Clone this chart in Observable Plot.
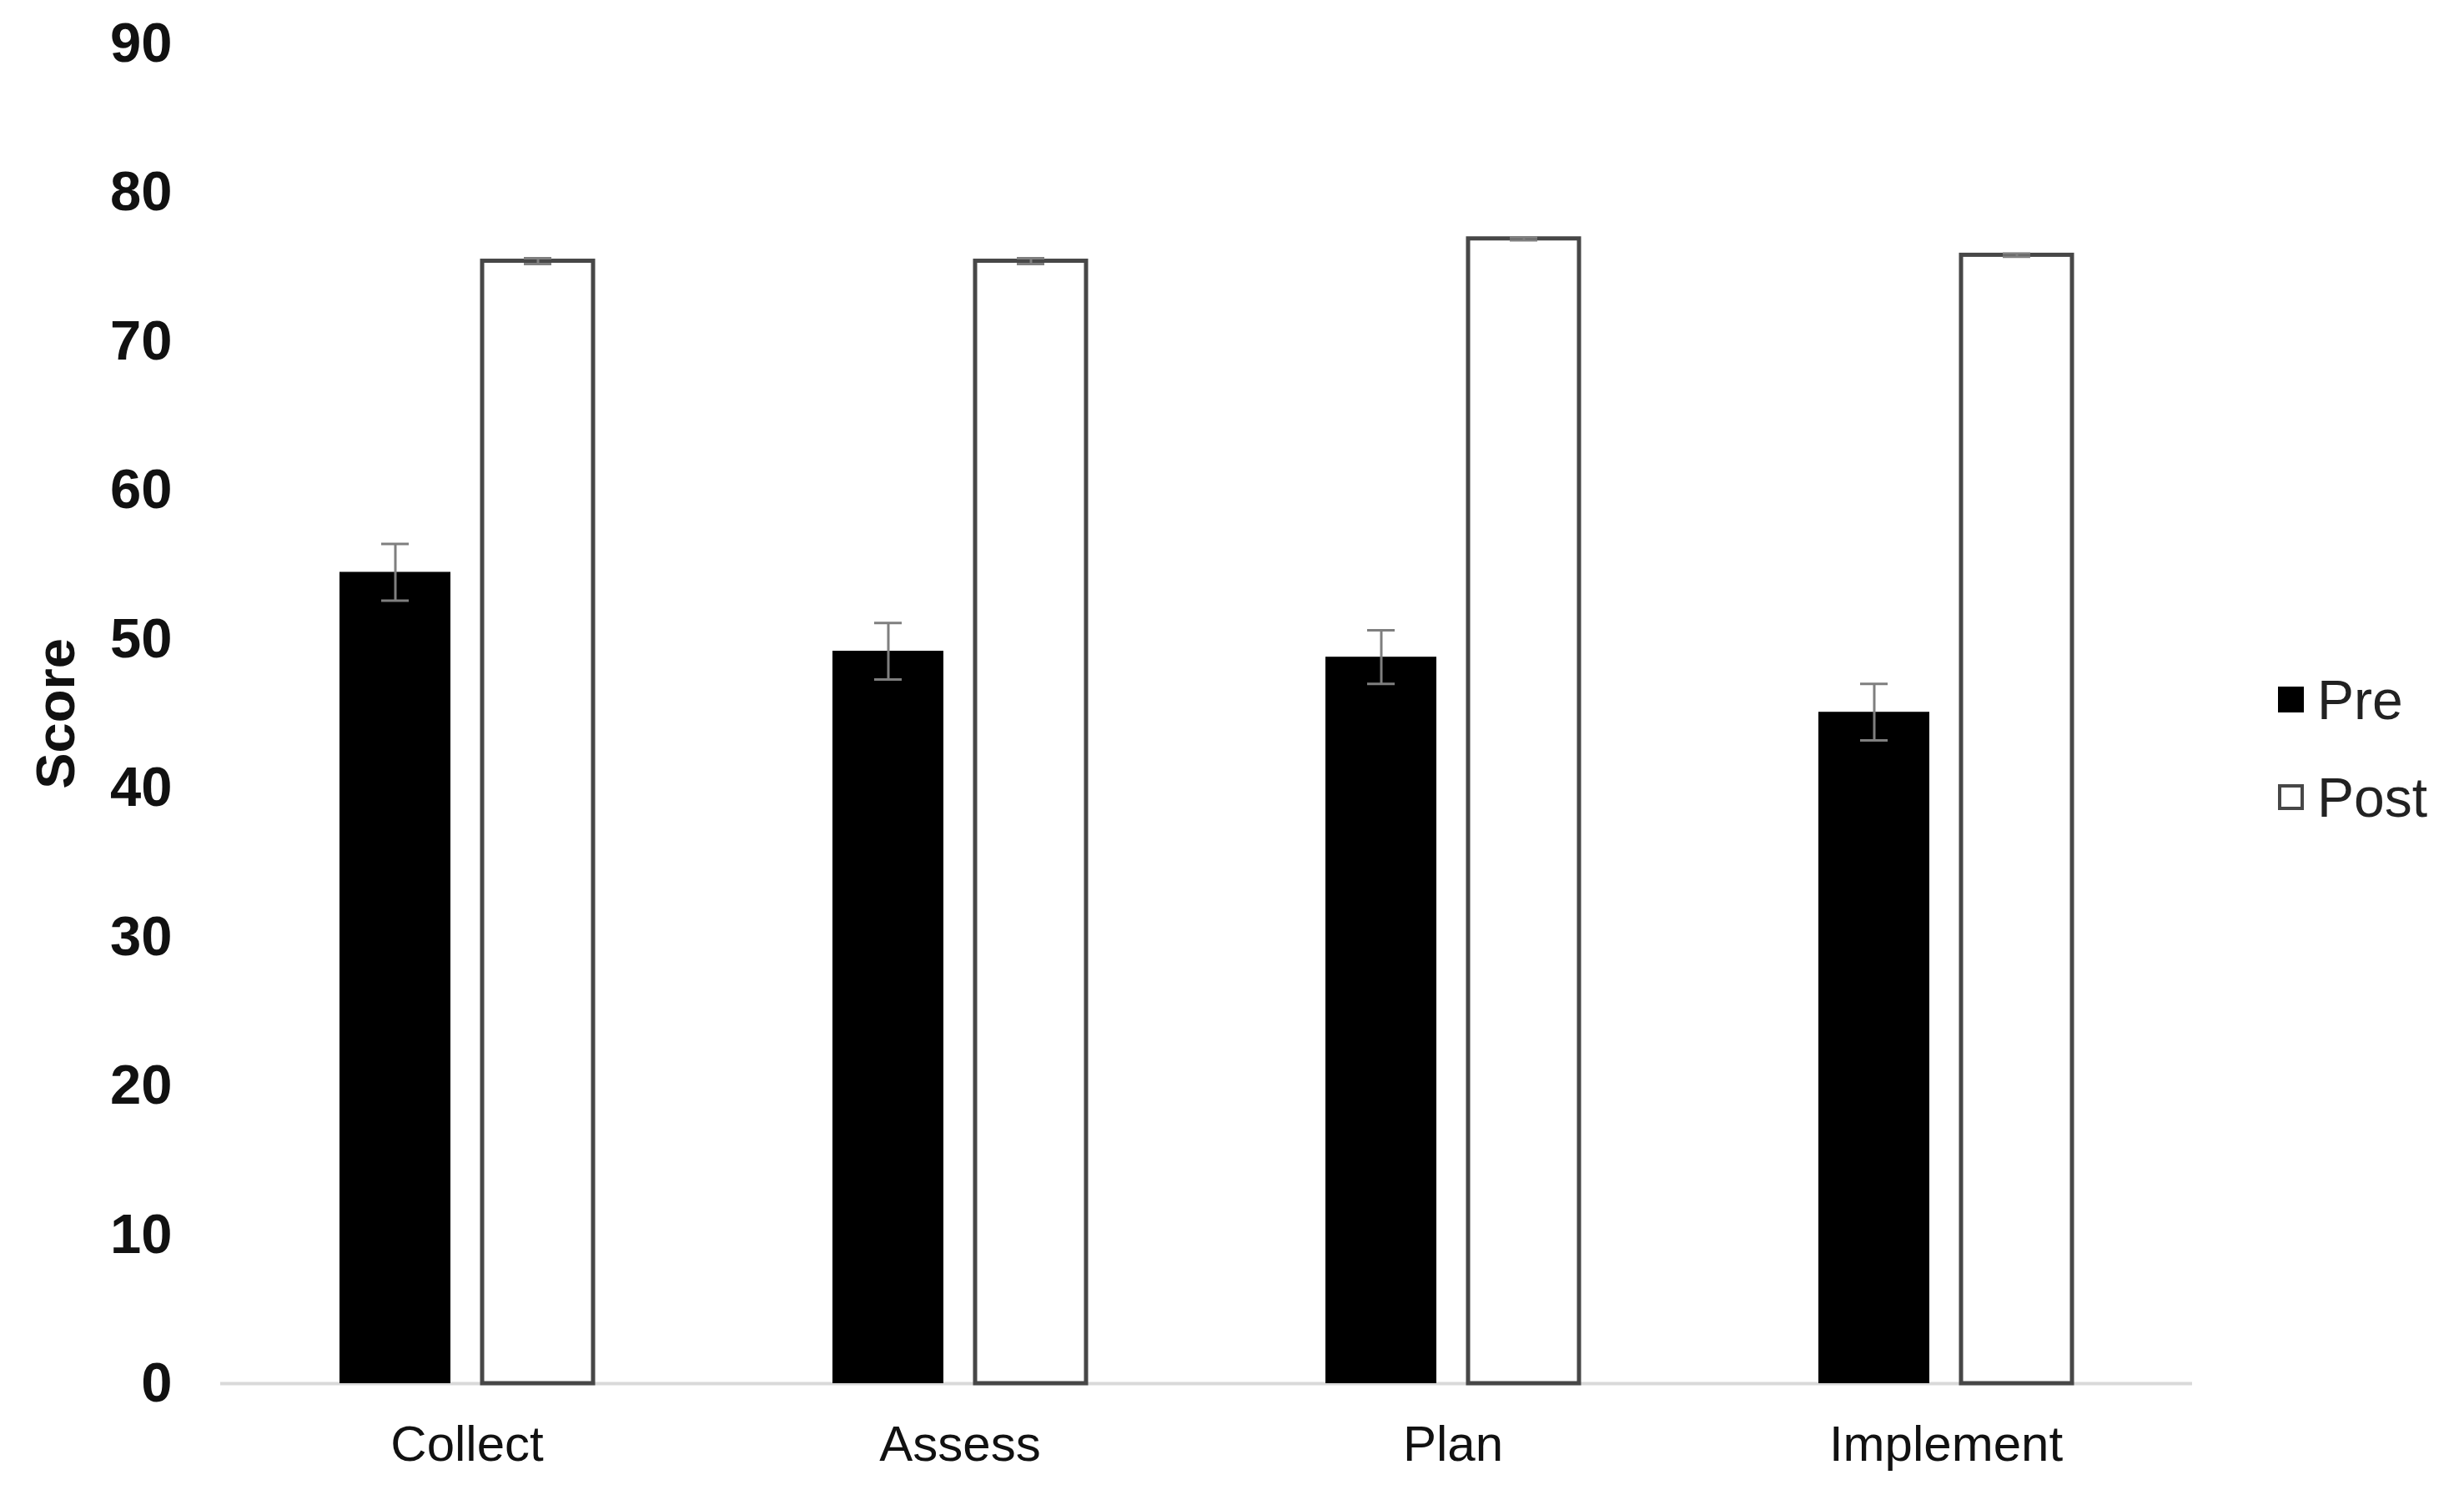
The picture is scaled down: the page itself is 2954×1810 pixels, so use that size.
<!DOCTYPE html>
<html>
<head>
<meta charset="utf-8">
<script src="https://cdn.jsdelivr.net/npm/d3@7"></script>
<script src="https://cdn.jsdelivr.net/npm/@observablehq/plot@0.6"></script>
<style>
  html, body { margin: 0; padding: 0; background: #fff; }
  #wrap { position: relative; width: 2954px; height: 1810px; font-family: "Liberation Sans", Arial, sans-serif; }
  #legend { position: absolute; left: 2731px; top: 780px; }
  .item { display: flex; align-items: center; height: 117px; font-size: 66px; color: #222; }
  .sw { width: 31px; height: 31px; margin-right: 16px; box-sizing: border-box; }
</style>
</head>
<body>
<div id="wrap">
  <div id="chart"></div>
  <div id="legend"></div>
</div>
<script>
const categories = ["Collect", "Assess", "Plan", "Implement"];
const seriesNames = ["Pre", "Post"];
const preMeans = [54.5, 49.2, 48.8, 45.1];
const preErr = [1.9, 1.9, 1.8, 1.9];
const postMeans = [75.4, 75.4, 76.9, 75.8];
const postErr = [0.2, 0.2, 0.1, 0.1];
const yTicks = [0, 10, 20, 30, 40, 50, 60, 70, 80, 90];

const rows = [];
categories.forEach((c, i) => {
  rows.push({cat: c, series: "Pre", value: preMeans[i], err: preErr[i]});
  rows.push({cat: c, series: "Post", value: postMeans[i], err: postErr[i]});
});
const pre = rows.filter(d => d.series === "Pre");
const post = rows.filter(d => d.series === "Post");

const chart = Plot.plot({
  width: 2954,
  height: 1810,
  marginTop: 52,
  marginBottom: 152,
  marginLeft: 264,
  marginRight: 326,
  style: {fontFamily: "Liberation Sans, Arial, sans-serif", background: "#fff", color: "#111"},
  fx: {domain: categories, padding: 0, label: null},
  x: {domain: seriesNames, paddingInner: 0.222, paddingOuter: 0.836, axis: null},
  y: {domain: [0, 90], label: null},
  marks: [
    Plot.ruleY([0], {stroke: "#d9d9d9", strokeWidth: 4}),
    Plot.barY(pre, {fx: "cat", x: "series", y: "value", fill: "#000"}),
    Plot.barY(post, {fx: "cat", x: "series", y: "value", fill: "#fff", stroke: "#474747", strokeWidth: 5}),
    Plot.ruleX(rows, {fx: "cat", x: "series", y1: d => d.value - d.err, y2: d => d.value + d.err, stroke: "#7f7f7f", strokeWidth: 3}),
    Plot.tickY(rows, {fx: "cat", x: "series", y: d => d.value + d.err, stroke: "#7f7f7f", strokeWidth: 3, insetLeft: 50, insetRight: 50}),
    Plot.tickY(rows, {fx: "cat", x: "series", y: d => d.value - d.err, stroke: "#7f7f7f", strokeWidth: 3, insetLeft: 50, insetRight: 50}),
    Plot.axisY({ticks: yTicks, tickSize: 0, tickPadding: 58, fontSize: 67, fontWeight: "bold",
      label: "Score", labelAnchor: "center", labelArrow: "none", labelOffset: 222}),
    Plot.axisFx({anchor: "bottom", tickSize: 0, tickPadding: 50, fontSize: 60, label: null})
  ]
});
document.getElementById("chart").appendChild(chart);

// style axis label bold
chart.querySelectorAll("text").forEach(t => {
  if (t.textContent === "Score") { t.setAttribute("font-weight", "bold"); t.setAttribute("font-size", 65); }
});

const legend = document.getElementById("legend");
seriesNames.forEach(s => {
  const item = document.createElement("div");
  item.className = "item";
  const sw = document.createElement("div");
  sw.className = "sw";
  if (s === "Pre") { sw.style.background = "#000"; }
  else { sw.style.background = "#fff"; sw.style.border = "4px solid #474747"; }
  item.appendChild(sw);
  const label = document.createElement("span");
  label.textContent = s;
  item.appendChild(label);
  legend.appendChild(item);
});
</script>
</body>
</html>
